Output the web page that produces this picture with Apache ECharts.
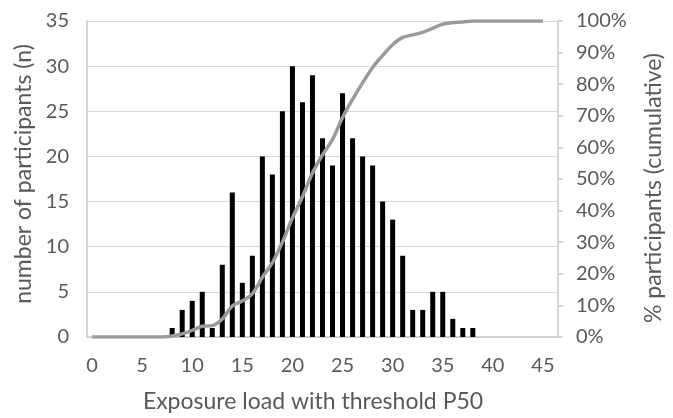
<!DOCTYPE html>
<html>
<head>
<meta charset="utf-8">
<script src="https://cdn.jsdelivr.net/npm/echarts@6/dist/echarts.min.js"></script>
<style>
html,body{margin:0;padding:0;background:#fff;}
#chart{width:673px;height:418px;}
</style>
</head>
<body>
<div id="chart"></div>
<script>
var categories = ['0','1','2','3','4','5','6','7','8','9','10','11','12','13','14','15','16','17','18','19','20','21','22','23','24','25','26','27','28','29','30','31','32','33','34','35','36','37','38','39','40','41','42','43','44','45','46'];
var counts = [0,0,0,0,0,0,0,0,1,3,4,5,1,8,16,6,9,20,18,25,30,26,29,22,19,27,22,20,19,15,13,9,3,3,5,5,2,1,1,0,0,0,0,0,0,0,0];
var cumulativePct = [0,0,0,0,0,0,0,0,0.3,1.0,2.1,3.4,3.6,5.7,9.8,11.4,13.7,18.9,23.5,30.0,37.7,44.4,51.9,57.6,62.5,69.5,75.2,80.4,85.3,89.1,92.5,94.8,95.6,96.4,97.7,99.0,99.5,99.7,100,100,100,100,100,100,100,100];
var leftTicks = [0,5,10,15,20,25,30,35];
var rightTicks = ['0%','10%','20%','30%','40%','50%','60%','70%','80%','90%','100%'];

var txt = '#595959';
var font = 'Lato';
var chart = echarts.init(document.getElementById('chart'), null, {renderer:'canvas'});
chart.setOption({
  animation:false,
  backgroundColor:'#fff',
  grid:{left:87,right:105,top:21,bottom:77,containLabel:false},
  xAxis:{
    type:'category', data:categories, boundaryGap:true,
    axisLine:{lineStyle:{color:'#c8c8c8',width:1.5}},
    axisTick:{show:false},
    axisLabel:{interval:4,color:txt,fontSize:20,fontFamily:font,margin:19},
    name:'Exposure load with threshold P50', nameLocation:'middle', nameGap:53,
    nameTextStyle:{color:txt,fontSize:23,fontFamily:font,padding:[0,19,0,0]}
  },
  yAxis:[{
    type:'value', min:leftTicks[0], max:leftTicks[leftTicks.length-1], interval:5,
    axisLine:{show:true,lineStyle:{color:'#c8c8c8',width:1.5}},
    axisTick:{show:false},
    splitLine:{lineStyle:{color:'#d9d9d9',width:1.2}},
    axisLabel:{color:txt,fontSize:20,fontFamily:font,margin:18},
    name:'number of participants (n)', nameLocation:'middle', nameRotate:90, nameGap:50,
    nameTextStyle:{color:txt,fontSize:23,fontFamily:font,padding:[0,0,0,10]}
  },{
    type:'value', min:0, max:100, interval:10, position:'right',
    axisLine:{show:true,lineStyle:{color:'#c8c8c8',width:1.5}},
    axisTick:{show:true,length:5,lineStyle:{color:'#c8c8c8',width:1.5}},
    splitLine:{show:false},
    axisLabel:{color:txt,fontSize:20,fontFamily:font,margin:18,
      formatter:function(v){return rightTicks[Math.round(v/10)];}},
    name:'% participants (cumulative)', nameLocation:'middle', nameRotate:90, nameGap:84,
    nameTextStyle:{color:txt,fontSize:23,fontFamily:font,padding:[0,18,0,0]}
  }],
  series:[{
    type:'bar', data:counts, yAxisIndex:0, barWidth:5,
    itemStyle:{color:'#000'}
  },{
    type:'line', data:cumulativePct, yAxisIndex:1, smooth:0.35, showSymbol:false,
    lineStyle:{color:'#9a9a9a',width:3.5}, z:5
  }]
});
</script>
</body>
</html>
